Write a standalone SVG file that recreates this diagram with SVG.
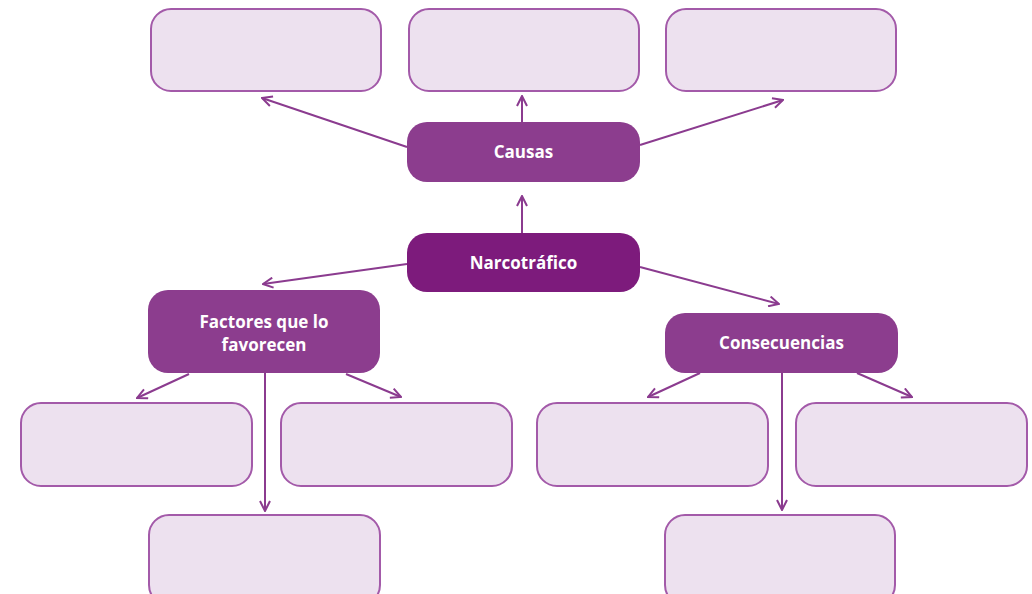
<svg xmlns="http://www.w3.org/2000/svg" width="1032" height="594" viewBox="0 0 1032 594">
<defs>
<style>
.box{fill:#ede1ef;stroke:#a35aa9;stroke-width:2}
.main{fill:#8c3d8e}
.center{fill:#7d1b7c}
.lbl{fill:#ffffff;font-family:"Open Sans","DejaVu Sans",sans-serif;font-weight:700;font-size:17px;text-anchor:middle}
.c{stroke:#8b3b8f;stroke-width:2;fill:none}
</style>
<marker id="ah" viewBox="0 0 12 12" refX="11" refY="6" markerWidth="12" markerHeight="12" markerUnits="userSpaceOnUse" orient="auto">
<path d="M1,1 L11,6 L1,11" fill="none" stroke="#8b3b8f" stroke-width="2"/>
</marker>
</defs>
<rect width="1032" height="594" fill="#ffffff"/>
<g id="connectors">
<line class="c" x1="407" y1="147" x2="262" y2="98" marker-end="url(#ah)"/>
<line class="c" x1="522" y1="122" x2="522" y2="96" marker-end="url(#ah)"/>
<line class="c" x1="640" y1="145" x2="783" y2="100" marker-end="url(#ah)"/>
<line class="c" x1="522" y1="233" x2="522" y2="196" marker-end="url(#ah)"/>
<line class="c" x1="407" y1="264" x2="263" y2="284" marker-end="url(#ah)"/>
<line class="c" x1="640" y1="267" x2="779" y2="304" marker-end="url(#ah)"/>
<line class="c" x1="189" y1="374" x2="137" y2="398" marker-end="url(#ah)"/>
<line class="c" x1="265" y1="373" x2="265" y2="511" marker-end="url(#ah)"/>
<line class="c" x1="346" y1="374" x2="401" y2="397" marker-end="url(#ah)"/>
<line class="c" x1="700" y1="373" x2="648" y2="397" marker-end="url(#ah)"/>
<line class="c" x1="782" y1="373" x2="782" y2="510" marker-end="url(#ah)"/>
<line class="c" x1="857" y1="373" x2="912" y2="397" marker-end="url(#ah)"/>
</g>
<g id="top1"><rect class="box" x="151" y="9" width="230" height="82" rx="20"/></g>
<g id="top2"><rect class="box" x="409" y="9" width="230" height="82" rx="20"/></g>
<g id="top3"><rect class="box" x="666" y="9" width="230" height="82" rx="20"/></g>
<g id="causas"><rect class="main" x="407" y="122" width="233" height="60" rx="20"/><text class="lbl" x="523.5" y="158">Causas</text></g>
<g id="narcotrafico"><rect class="center" x="407" y="233" width="233" height="59" rx="20"/><text class="lbl" x="523.5" y="269">Narcotráfico</text></g>
<g id="factores"><rect class="main" x="148" y="290" width="232" height="83" rx="20"/><text class="lbl" x="264" y="328">Factores que lo</text><text class="lbl" x="264" y="351">favorecen</text></g>
<g id="consecuencias"><rect class="main" x="665" y="313" width="233" height="60" rx="20"/><text class="lbl" x="781.5" y="349">Consecuencias</text></g>
<g id="f1"><rect class="box" x="21" y="403" width="231" height="83" rx="20"/></g>
<g id="f2"><rect class="box" x="281" y="403" width="231" height="83" rx="20"/></g>
<g id="f3"><rect class="box" x="149" y="515" width="231" height="90" rx="20"/></g>
<g id="c1"><rect class="box" x="537" y="403" width="231" height="83" rx="20"/></g>
<g id="c2"><rect class="box" x="796" y="403" width="231" height="83" rx="20"/></g>
<g id="c3"><rect class="box" x="665" y="515" width="230" height="90" rx="20"/></g>
</svg>
